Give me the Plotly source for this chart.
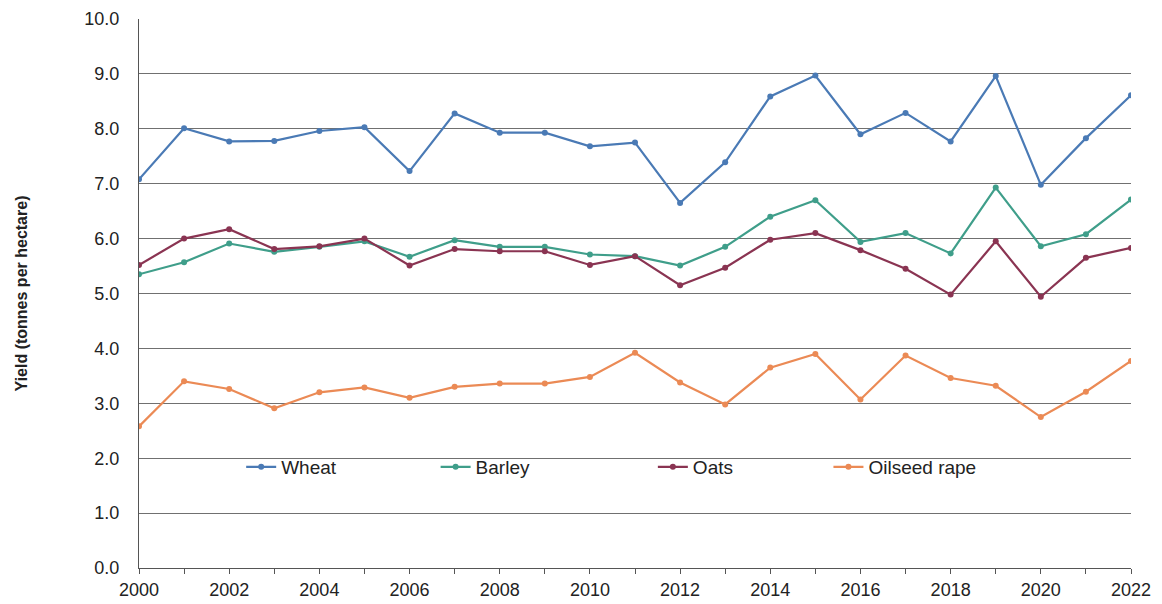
import plotly.graph_objects as go

years = list(range(2000, 2023))
wheat = [7.08, 8.01, 7.77, 7.78, 7.96, 8.03, 7.23, 8.28, 7.93, 7.93, 7.68, 7.75,
         6.65, 7.39, 8.59, 8.97, 7.90, 8.29, 7.77, 8.96, 6.98, 7.83, 8.61]
barley = [5.35, 5.57, 5.91, 5.76, 5.85, 5.95, 5.67, 5.97, 5.85, 5.85, 5.71, 5.68,
          5.51, 5.85, 6.40, 6.70, 5.94, 6.10, 5.73, 6.93, 5.86, 6.08, 6.71]
oats = [5.52, 6.00, 6.17, 5.81, 5.86, 6.00, 5.51, 5.81, 5.77, 5.77, 5.52, 5.68,
        5.15, 5.47, 5.98, 6.10, 5.79, 5.45, 4.98, 5.95, 4.94, 5.65, 5.83]
oilseed = [2.58, 3.40, 3.26, 2.91, 3.20, 3.29, 3.10, 3.30, 3.36, 3.36, 3.48, 3.92,
           3.38, 2.98, 3.65, 3.90, 3.07, 3.87, 3.46, 3.32, 2.75, 3.21, 3.77]

series = [
    ("Wheat", wheat, "#4a7ab5", "legend", 0.103),
    ("Barley", barley, "#3f9e8a", "legend2", 0.299),
    ("Oats", oats, "#8a3452", "legend3", 0.518),
    ("Oilseed rape", oilseed, "#eb8a55", "legend4", 0.695),
]

fig = go.Figure()
for name, vals, col, lg, _ in series:
    fig.add_trace(go.Scatter(
        x=years, y=vals, name=name, mode="lines+markers",
        line=dict(color=col, width=2.2),
        marker=dict(color=col, size=6),
        legend=lg,
    ))

legend_common = dict(
    orientation="h", yanchor="middle", y=0.184, xanchor="left",
    bgcolor="rgba(0,0,0,0)", font=dict(family="Liberation Sans, Arial", size=19, color="#222"),
    itemwidth=30, tracegroupgap=0,
)
layout_legends = {}
for name, vals, col, lg, xpos in series:
    layout_legends[lg] = dict(legend_common, x=xpos)

fig.update_layout(
    width=1162, height=604,
    margin=dict(l=131, r=39, t=11, b=44, autoexpand=False),
    paper_bgcolor="white", plot_bgcolor="white",
    font=dict(family="Liberation Sans, Arial", size=18, color="#222"),
    showlegend=True,
    **layout_legends,
)
fig.update_xaxes(
    range=[2000, 2022], tickmode="linear", tick0=2000, dtick=2,
    showgrid=False, showline=True, linecolor="#555", linewidth=1,
    ticks="outside", ticklen=5, tickcolor="#555",
    minor=dict(dtick=1, ticks="outside", ticklen=5, tickcolor="#555", showgrid=False),
    tickfont=dict(size=18), zeroline=False, automargin=False,
)
fig.update_yaxes(
    range=[0, 10], tickmode="linear", dtick=1, tickformat=".1f",
    showgrid=True, gridcolor="#707070", gridwidth=1,
    showline=True, linecolor="#555", linewidth=1,
    ticks="", ticklabelstandoff=15, zeroline=False, automargin=False,
    tickfont=dict(size=18),
    title=dict(text="<b>Yield (tonnes per hectare)</b>", font=dict(size=16), standoff=52),
)

fig.write_html("out.html")
